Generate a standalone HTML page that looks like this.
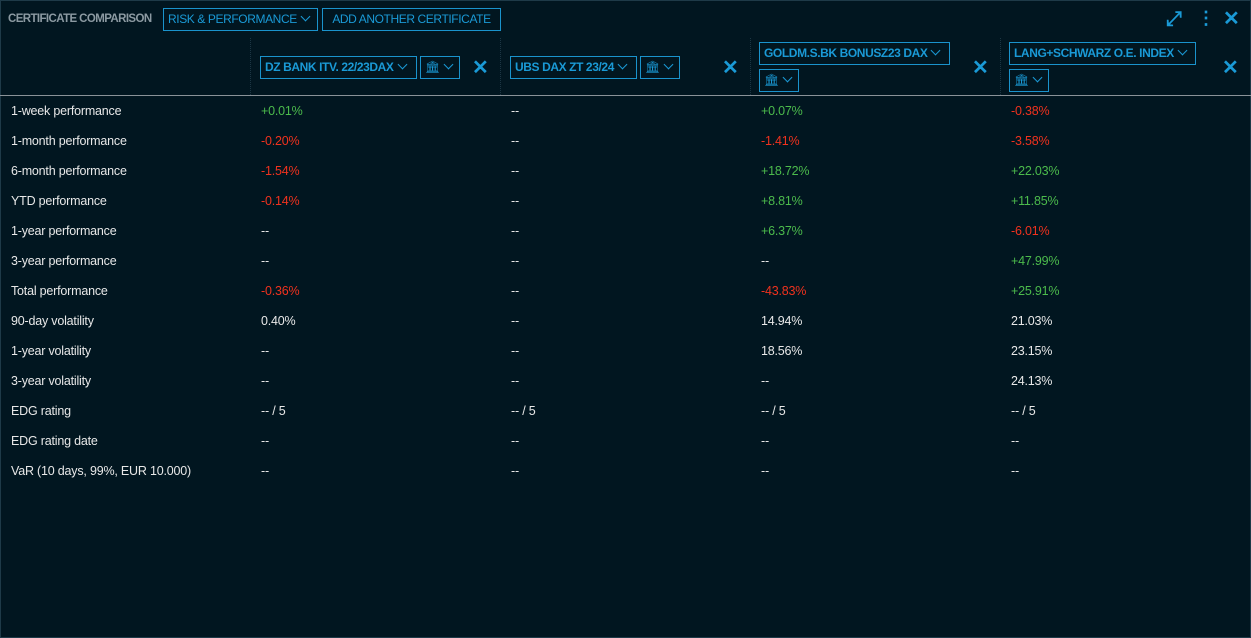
<!DOCTYPE html>
<html><head><meta charset="utf-8"><style>
*{margin:0;padding:0;box-sizing:border-box}
body{width:1251px;height:638px;background:#011620;font-family:"Liberation Sans",sans-serif;font-size:12.5px;color:#e8e8e8;position:relative;overflow:hidden;letter-spacing:-0.2px}
.frame{position:absolute;left:0;top:0;width:1251px;height:638px;border:1px solid #1e3a48}
.a{position:absolute;white-space:nowrap}
.btn{position:absolute;border:1px solid #1a93cc;color:#1a9ad6;height:23px;line-height:21px;padding:0 4px;font-size:12px;white-space:nowrap;overflow:hidden;letter-spacing:-0.4px}
.b{font-weight:bold}
.g{color:#4cbb4c}.r{color:#f0321e}
.x{position:absolute;color:#1a9ad6;font-size:20px;font-weight:bold;line-height:20px}
.vs{position:absolute;top:38px;height:57px;border-left:1px dotted #1c3644}
.chev{display:inline-block;width:7px;height:7px;border-right:1.3px solid #1a9ad6;border-bottom:1.3px solid #1a9ad6;transform:rotate(45deg);margin:0 2px 3px 5px}
</style></head><body>
<div class="frame"></div>
<div class="a" style="left:8px;top:13px;color:#8c9aa2;font-weight:bold;font-size:11.5px;letter-spacing:-0.6px">CERTIFICATE COMPARISON</div>
<div class="btn" style="left:163px;top:8px;width:155px">RISK &amp; PERFORMANCE<span class="chev"></span></div>
<div class="btn" style="left:322px;top:8px;width:179px;text-align:center">ADD ANOTHER CERTIFICATE</div>
<div class="a" style="left:1166px;top:8px;color:#1a9ad6;font-size:20px;font-weight:bold">⤢</div>
<div class="a" style="left:1197px;top:8px;color:#1a9ad6;font-size:18px;font-weight:bold">⋮</div>
<div class="x" style="left:1223px;top:9px">✕</div>

<div class="vs" style="left:250px"></div><div class="vs" style="left:500px"></div><div class="vs" style="left:750px"></div><div class="vs" style="left:1000px"></div>
<div class="a" style="left:0;top:95px;width:1251px;border-top:1px solid #8a9298"></div>

<div class="btn b" style="left:260px;top:56px;width:157px">DZ BANK ITV. 22/23DAX<span class="chev"></span></div>
<div class="btn" style="left:420px;top:56px;width:40px">🏛<span class="chev"></span></div>
<div class="x" style="left:472px;top:58px">✕</div>
<div class="btn b" style="left:510px;top:56px;width:127px">UBS DAX ZT 23/24<span class="chev"></span></div>
<div class="btn" style="left:640px;top:56px;width:40px">🏛<span class="chev"></span></div>
<div class="x" style="left:722px;top:58px">✕</div>
<div class="btn b" style="left:759px;top:42px;width:191px">GOLDM.S.BK BONUSZ23 DAX<span class="chev"></span></div>
<div class="btn" style="left:759px;top:69px;width:40px">🏛<span class="chev"></span></div>
<div class="x" style="left:972px;top:58px">✕</div>
<div class="btn b" style="left:1009px;top:42px;width:187px">LANG+SCHWARZ O.E. INDEX<span class="chev"></span></div>
<div class="btn" style="left:1009px;top:69px;width:40px">🏛<span class="chev"></span></div>
<div class="x" style="left:1222px;top:58px">✕</div>

<div class="a" style="left:11px;top:104px;line-height:15px">
1-week performance<br><br>1-month performance<br><br>6-month performance<br><br>YTD performance<br><br>1-year performance<br><br>3-year performance<br><br>Total performance<br><br>90-day volatility<br><br>1-year volatility<br><br>3-year volatility<br><br>EDG rating<br><br>EDG rating date<br><br>VaR (10 days, 99%, EUR 10.000)</div>
<div class="a" style="left:261px;top:104px;line-height:15px">
<span class="g">+0.01%</span><br><br><span class="r">-0.20%</span><br><br><span class="r">-1.54%</span><br><br><span class="r">-0.14%</span><br><br>--<br><br>--<br><br><span class="r">-0.36%</span><br><br>0.40%<br><br>--<br><br>--<br><br>-- / 5<br><br>--<br><br>--</div>
<div class="a" style="left:511px;top:104px;line-height:15px">
--<br><br>--<br><br>--<br><br>--<br><br>--<br><br>--<br><br>--<br><br>--<br><br>--<br><br>--<br><br>-- / 5<br><br>--<br><br>--</div>
<div class="a" style="left:761px;top:104px;line-height:15px">
<span class="g">+0.07%</span><br><br><span class="r">-1.41%</span><br><br><span class="g">+18.72%</span><br><br><span class="g">+8.81%</span><br><br><span class="g">+6.37%</span><br><br>--<br><br><span class="r">-43.83%</span><br><br>14.94%<br><br>18.56%<br><br>--<br><br>-- / 5<br><br>--<br><br>--</div>
<div class="a" style="left:1011px;top:104px;line-height:15px">
<span class="r">-0.38%</span><br><br><span class="r">-3.58%</span><br><br><span class="g">+22.03%</span><br><br><span class="g">+11.85%</span><br><br><span class="r">-6.01%</span><br><br><span class="g">+47.99%</span><br><br><span class="g">+25.91%</span><br><br>21.03%<br><br>23.15%<br><br>24.13%<br><br>-- / 5<br><br>--<br><br>--</div>
</body></html>
